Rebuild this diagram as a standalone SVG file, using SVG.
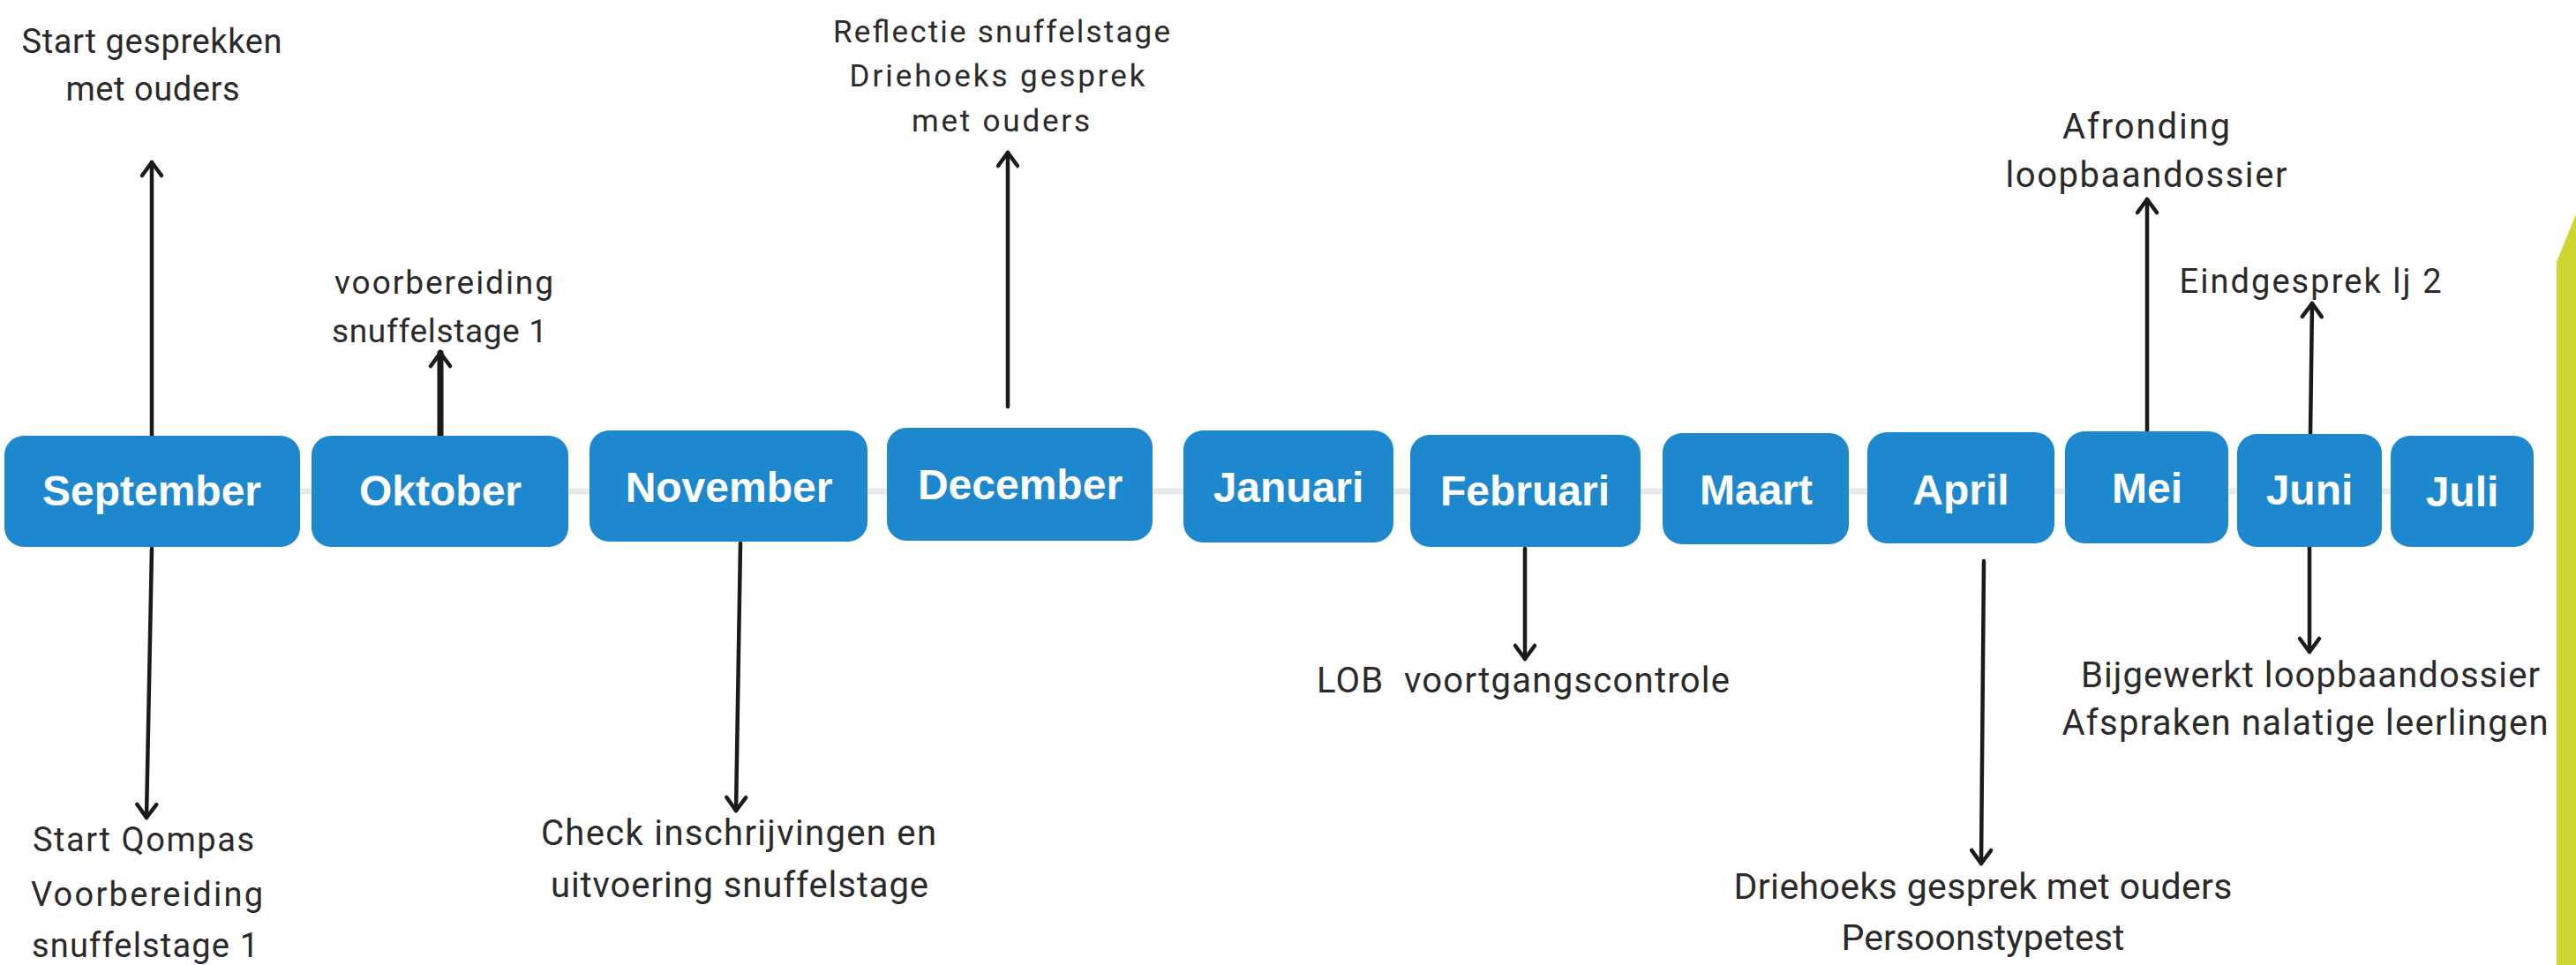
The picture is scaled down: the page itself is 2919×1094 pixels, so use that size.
<svg xmlns="http://www.w3.org/2000/svg" width="2919" height="1094" viewBox="0 0 2919 1094">
<style>
.box{fill:#1E88CF;}
.mlbl{font-family:"Liberation Sans",Arial,sans-serif;font-weight:bold;font-size:48px;fill:#ffffff;text-anchor:middle;}
.note{font-family:Roboto,"Liberation Sans",sans-serif;fill:#2a2a2a;text-anchor:middle;}
.arr{stroke:#1a1a1a;stroke-width:4.5;fill:none;stroke-linecap:round;marker-end:url(#head);}
.tl{stroke:#e8e9ea;stroke-width:7;fill:none;}
</style>
<defs>
<marker id="head" markerUnits="userSpaceOnUse" viewBox="-20 -15 25 30" refX="0" refY="0" markerWidth="25" markerHeight="30" orient="auto" overflow="visible">
<path d="M-15,-11 L0,0 L-15,11" fill="none" stroke="#1a1a1a" stroke-width="4.5" stroke-linecap="round" stroke-linejoin="round"/>
</marker>
</defs>
<rect x="0" y="0" width="2919" height="1094" fill="#ffffff"/>
<polygon id="accent" points="2919,243 2897,297 2897,1094 2919,1094" fill="#CDD631"/>

<g id="connectors">
<line class="tl" x1="330" y1="557" x2="2720" y2="557"/>
<line class="arr" x1="172" y1="494" x2="172" y2="184"/>
<line class="arr" x1="499" y1="494" x2="499" y2="400" style="stroke-width:7"/>
<line class="arr" x1="1142" y1="461" x2="1142" y2="173"/>
<line class="arr" x1="2433" y1="489" x2="2433" y2="226"/>
<line class="arr" x1="2618" y1="492" x2="2620" y2="344"/>
<line class="arr" x1="172" y1="622" x2="166" y2="927"/>
<line class="arr" x1="839" y1="616" x2="834" y2="919"/>
<line class="arr" x1="1728" y1="622" x2="1728" y2="747"/>
<line class="arr" x1="2248" y1="636" x2="2245" y2="979"/>
<line class="arr" x1="2617" y1="620" x2="2617" y2="739"/>
</g>

<g id="n-september"><rect class="box" x="5" y="494" width="335" height="126" rx="22"/><text class="mlbl" x="172" y="573">September</text></g>
<g id="n-oktober"><rect class="box" x="353" y="494" width="291" height="126" rx="22"/><text class="mlbl" x="499" y="573">Oktober</text></g>
<g id="n-november"><rect class="box" x="668" y="488" width="315" height="126" rx="22"/><text class="mlbl" x="826" y="569">November</text></g>
<g id="n-december"><rect class="box" x="1005" y="485" width="301" height="128" rx="22"/><text class="mlbl" x="1156" y="566">December</text></g>
<g id="n-januari"><rect class="box" x="1341" y="488" width="238" height="127" rx="22"/><text class="mlbl" x="1460" y="569">Januari</text></g>
<g id="n-februari"><rect class="box" x="1598" y="493" width="261" height="127" rx="22"/><text class="mlbl" x="1728" y="573">Februari</text></g>
<g id="n-maart"><rect class="box" x="1884" y="491" width="211" height="126" rx="22"/><text class="mlbl" x="1990" y="572">Maart</text></g>
<g id="n-april"><rect class="box" x="2116" y="490" width="212" height="126" rx="22"/><text class="mlbl" x="2222" y="572">April</text></g>
<g id="n-mei"><rect class="box" x="2340" y="489" width="185" height="127" rx="22"/><text class="mlbl" x="2433" y="570">Mei</text></g>
<g id="n-juni"><rect class="box" x="2535" y="492" width="164" height="128" rx="22"/><text class="mlbl" x="2617" y="572">Juni</text></g>
<g id="n-juli"><rect class="box" x="2709" y="494" width="162" height="126" rx="22"/><text class="mlbl" x="2790" y="574">Juli</text></g>

<g id="t-sep-up" font-size="38">
<text class="note" x="172" y="60" textLength="295" lengthAdjust="spacing">Start gesprekken</text>
<text class="note" x="173" y="114" textLength="197" lengthAdjust="spacing">met ouders</text>
</g>
<g id="t-okt-up" font-size="37">
<text class="note" x="503" y="333" textLength="248" lengthAdjust="spacing">voorbereiding</text>
<text class="note" x="498" y="388" textLength="244" lengthAdjust="spacing">snuffelstage 1</text>
</g>
<g id="t-dec-up" font-size="35">
<text class="note" x="1135" y="48" textLength="382" lengthAdjust="spacing">Reflectie snuffelstage</text>
<text class="note" x="1130" y="98" textLength="335" lengthAdjust="spacing">Driehoeks gesprek</text>
<text class="note" x="1134" y="149" textLength="202" lengthAdjust="spacing">met ouders</text>
</g>
<g id="t-mei-up" font-size="40">
<text class="note" x="2432" y="157" textLength="190" lengthAdjust="spacing">Afronding</text>
<text class="note" x="2432" y="212" textLength="319" lengthAdjust="spacing">loopbaandossier</text>
</g>
<g id="t-juni-up" font-size="38">
<text class="note" x="2618" y="332" textLength="297" lengthAdjust="spacing">Eindgesprek lj 2</text>
</g>
<g id="t-sep-down" font-size="38">
<text class="note" x="37" y="965" style="text-anchor:start" textLength="251" lengthAdjust="spacing">Start Qompas</text>
<text class="note" x="35" y="1027" style="text-anchor:start" textLength="263" lengthAdjust="spacing">Voorbereiding</text>
<text class="note" x="36" y="1085" style="text-anchor:start" textLength="257" lengthAdjust="spacing">snuffelstage 1</text>
</g>
<g id="t-nov-down" font-size="40">
<text class="note" x="837" y="958" textLength="448" lengthAdjust="spacing">Check inschrijvingen en</text>
<text class="note" x="838" y="1017" textLength="428" lengthAdjust="spacing">uitvoering snuffelstage</text>
</g>
<g id="t-feb-down" font-size="40">
<text class="note" x="1726" y="785" textLength="468" lengthAdjust="spacing" xml:space="preserve">LOB  voortgangscontrole</text>
</g>
<g id="t-apr-down" font-size="41">
<text class="note" x="2247" y="1019" textLength="565" lengthAdjust="spacing">Driehoeks gesprek met ouders</text>
<text class="note" x="2247" y="1077" textLength="321" lengthAdjust="spacing">Persoonstypetest</text>
</g>
<g id="t-juni-down" font-size="40">
<text class="note" x="2618" y="779" textLength="520" lengthAdjust="spacing">Bijgewerkt loopbaandossier</text>
<text class="note" x="2612" y="833" textLength="551" lengthAdjust="spacing">Afspraken nalatige leerlingen</text>
</g>
</svg>
